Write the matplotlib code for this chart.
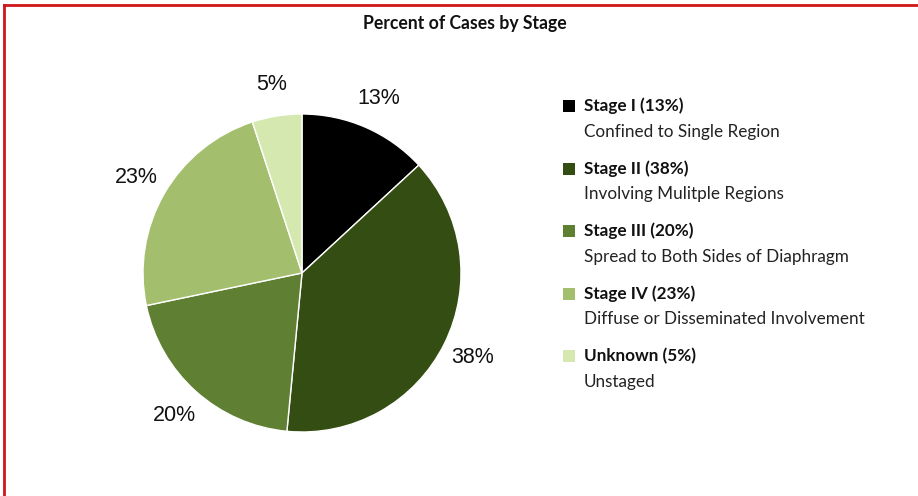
import matplotlib.pyplot as plt
from matplotlib.patches import Rectangle
from matplotlib.lines import Line2D

# data
stages = ['Stage I', 'Stage II', 'Stage III', 'Stage IV', 'Unknown']
percents = [13, 38, 20, 23, 5]
descriptions = ['Confined to Single Region', 'Involving Mulitple Regions',
                'Spread to Both Sides of Diaphragm',
                'Diffuse or Disseminated Involvement', 'Unstaged']
colors = ['#000000', '#344d13', '#5f7f32', '#a3bf6e', '#d5e8b0']

W, H = 918, 496
fig = plt.figure(figsize=(W / 100, H / 100), dpi=100)

# pie axes: centre ~ (302, 273) px, radius ~159 px
cx, cy, r = 302, 273, 159
ax = fig.add_axes([(cx - r) / W, (H - cy - r) / H, 2 * r / W, 2 * r / H])
wedges, texts = ax.pie(percents, colors=colors, startangle=90, counterclock=False,
                       labels=[f'{p}%' for p in percents], labeldistance=1.2,
                       wedgeprops=dict(edgecolor='white', linewidth=1))
for t in texts:
    t.set_fontfamily('Liberation Sans')
    t.set_fontsize(15.5)
    t.set_color('#111111')
    t.set_ha('center')
    t.set_va('center')
ax.set_xlim(-1, 1)
ax.set_ylim(-1, 1)
ax.set_aspect('equal')

# title
fig.text(465 / W, 1 - 24 / H, 'Percent of Cases by Stage', ha='center', va='center',
         fontsize=12.7, fontweight='bold', family='Lato', color='#111111')

# legend drawn by hand
y0, step = 106, 62.5
for i, (s, p, d, c) in enumerate(zip(stages, percents, descriptions, colors)):
    y = y0 + i * step
    fig.patches.append(Rectangle((563 / W, 1 - (y + 6) / H), 12 / W, 12 / H,
                                 transform=fig.transFigure, facecolor=c, edgecolor='none'))
    fig.text(584 / W, 1 - y / H, f'{s} ({p}%)', ha='left', va='center',
             fontsize=12.3, fontweight='bold', family='Lato', color='#111111')
    fig.text(584 / W, 1 - (y + 26) / H, d, ha='left', va='center',
             fontsize=12.3, family='Lato', color='#222222')

# red frame (top and left edges)
fig.add_artist(Line2D([4 / W, 1], [1 - 5 / H, 1 - 5 / H], color='#d0161b', lw=2,
                      transform=fig.transFigure))
fig.add_artist(Line2D([4 / W, 4 / W], [0, 1 - 5 / H], color='#d0161b', lw=2,
                      transform=fig.transFigure))

fig.savefig('out.png', dpi=100, facecolor='white')
